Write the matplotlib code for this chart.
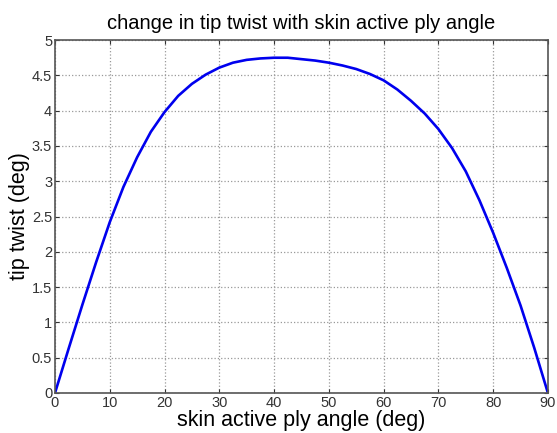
import numpy as np
import matplotlib.pyplot as plt

# skin active ply angle (deg) vs tip twist (deg)
ply_angle = [0, 2.5, 5, 7.5, 10, 12.5, 15, 17.5, 20, 22.5, 25, 27.5, 30, 32.5, 35,
             37.5, 40, 42.5, 45, 47.5, 50, 52.5, 55, 57.5, 60, 62.5, 65, 67.5, 70,
             72.5, 75, 77.5, 80, 82.5, 85, 87.5, 90]
tip_twist = [0, 0.63, 1.25, 1.85, 2.42, 2.92, 3.34, 3.70, 3.98, 4.21, 4.38, 4.51,
             4.61, 4.68, 4.72, 4.74, 4.75, 4.75, 4.73, 4.71, 4.68, 4.64, 4.59, 4.52,
             4.43, 4.30, 4.14, 3.96, 3.74, 3.47, 3.14, 2.73, 2.27, 1.77, 1.24, 0.64, 0]
x_ticks = list(range(0, 91, 10))
y_ticks = [0, 0.5, 1, 1.5, 2, 2.5, 3, 3.5, 4, 4.5, 5]

plt.rcParams['font.family'] = ['Liberation Sans', 'DejaVu Sans']

fig = plt.figure(figsize=(5.57, 4.33), dpi=100)
ax = fig.add_axes([0.0987, 0.0924, 0.885, 0.815])

ax.plot(ply_angle, tip_twist, color='#0000ee', linewidth=1.9, solid_joinstyle='round')

ax.set_xlim(0, 90)
ax.set_ylim(0, 5)
ax.set_xticks(x_ticks)
ax.set_yticks(y_ticks)
ax.set_yticklabels(['0', '0.5', '1', '1.5', '2', '2.5', '3', '3.5', '4', '4.5', '5'])
ax.tick_params(direction='in', top=True, right=True, labelsize=10.5, length=3, pad=2,
               colors='#333333')
for s in ax.spines.values():
    s.set_color('#555555')
    s.set_linewidth(1.2)
ax.grid(True, linestyle=':', color='#999999', linewidth=0.9)

ax.set_title('change in tip twist with skin active ply angle', fontsize=14.5, pad=8)
ax.set_xlabel('skin active ply angle (deg)', fontsize=15.5, labelpad=0)
ax.set_ylabel('tip twist (deg)', fontsize=15.5, labelpad=1)

fig.savefig('out.png', dpi=100)
